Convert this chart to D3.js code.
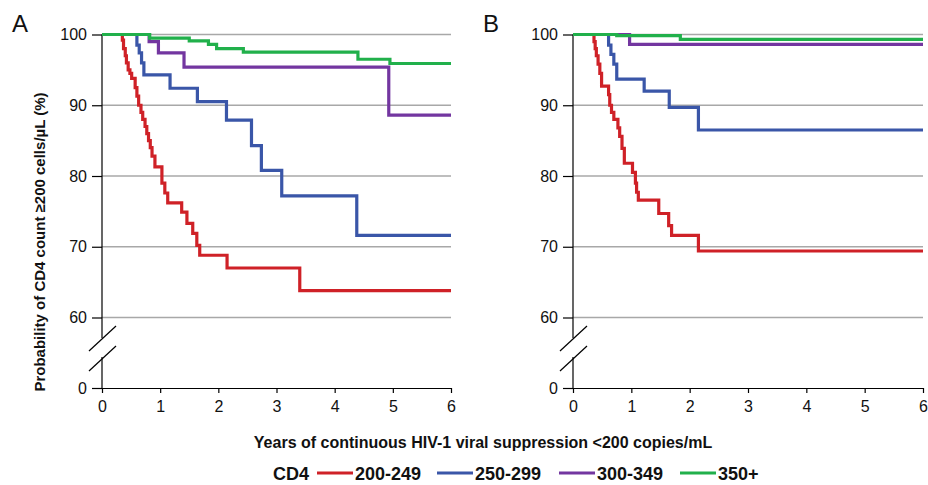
<!DOCTYPE html>
<meta charset="UTF-8">
<html>
<head>
<script src="https://d3js.org/d3.v7.min.js"></script>
<style>
  body { margin: 0; background: #fff; }
  svg { font-family: "Liberation Sans", Arial, sans-serif; }
</style>
</head>
<body>
<svg id="chart" width="928" height="485"></svg>
<script>
// ---- data (years, % probability after each step) ----
var groups = ["200-249", "250-299", "300-349", "350+"];
var colors = ["#cf2127", "#3a56a8", "#7336a0", "#21b04b"];
var xTicks = [0, 1, 2, 3, 4, 5, 6];
var yTicks = [0, 60, 70, 80, 90, 100];

// panel A
var timeA_200 = [0.35, 0.37, 0.40, 0.42, 0.45, 0.48, 0.51, 0.57, 0.60, 0.63, 0.67, 0.70, 0.74, 0.77, 0.80, 0.83, 0.86, 0.91, 1.03, 1.08, 1.13, 1.37, 1.46, 1.56, 1.63, 1.68, 2.15, 3.40];
var survA_200 = [99.2, 98.0, 97.0, 96.0, 95.0, 94.5, 93.8, 92.5, 91.3, 90.0, 89.0, 88.0, 87.0, 86.0, 85.0, 84.0, 82.8, 81.3, 79.0, 77.6, 76.2, 74.9, 73.3, 71.9, 70.2, 68.8, 67.0, 63.8];
var timeA_250 = [0.60, 0.64, 0.68, 0.72, 1.17, 1.64, 2.14, 2.57, 2.74, 3.09, 4.38];
var survA_250 = [98.5, 97.4, 96.0, 94.3, 92.4, 90.5, 87.9, 84.3, 80.8, 77.2, 71.6];
var timeA_300 = [0.81, 0.97, 1.41, 4.93];
var survA_300 = [99.0, 97.4, 95.4, 88.6];
var timeA_350 = [0.82, 1.50, 1.83, 1.97, 2.43, 4.40, 4.95];
var survA_350 = [99.5, 99.1, 98.6, 98.0, 97.5, 96.5, 95.9];

// panel B
var timeB_200 = [0.36, 0.38, 0.40, 0.43, 0.46, 0.49, 0.61, 0.63, 0.66, 0.70, 0.77, 0.80, 0.84, 0.88, 1.02, 1.07, 1.09, 1.12, 1.47, 1.64, 1.69, 2.15];
var survB_200 = [99.0, 98.0, 97.0, 95.8, 94.5, 92.7, 91.5, 90.0, 89.0, 88.0, 86.8, 85.6, 83.9, 81.8, 80.5, 79.0, 77.7, 76.6, 74.7, 73.0, 71.6, 69.4];
var timeB_250 = [0.61, 0.65, 0.70, 0.75, 1.22, 1.65, 2.15];
var survB_250 = [98.5, 97.2, 95.8, 93.7, 92.0, 89.7, 86.5];
var timeB_300 = [0.97];
var survB_300 = [98.6];
var timeB_350 = [0.75, 1.84];
var survB_350 = [99.85, 99.3];

var panels = [
  { label: "A", x0: 102, x1: 451, times: [timeA_200, timeA_250, timeA_300, timeA_350], surv: [survA_200, survA_250, survA_300, survA_350] },
  { label: "B", x0: 573, x1: 923, times: [timeB_200, timeB_250, timeB_300, timeB_350], surv: [survB_200, survB_250, survB_300, survB_350] }
];

var svg = d3.select("#chart");
// broken axis: 0 sits below 60
var y = d3.scaleLinear().domain([0, 60, 100]).range([388, 317.5, 34.5]);

panels.forEach(function (p) {
  var x = d3.scaleLinear().domain([0, 6]).range([p.x0, p.x1]);
  var g = svg.append("g");

  // gridlines
  g.selectAll("line.grid")
    .data(yTicks.filter(function (d) { return d >= 60; }))
    .enter().append("line")
    .attr("x1", x(0)).attr("x2", x(6))
    .attr("y1", function (d) { return y(d); })
    .attr("y2", function (d) { return y(d); })
    .attr("stroke", "#a8a8a8").attr("stroke-width", 1.5);

  // y axis, ticks only; the line is drawn by hand for the break
  var yAxis = g.append("g")
    .attr("transform", "translate(" + x(0) + ",0)")
    .call(d3.axisLeft(y).tickValues(yTicks).tickSize(10).tickPadding(5).tickFormat(d3.format("d")));
  yAxis.select(".domain").remove();
  yAxis.selectAll("line").attr("stroke", "#000").attr("stroke-width", 1.2);
  yAxis.selectAll("text").attr("font-size", 16).attr("fill", "#111")
    .attr("font-family", "'Liberation Sans', Arial, sans-serif");

  g.append("line").attr("x1", x(0)).attr("x2", x(0))
    .attr("y1", y(100)).attr("y2", 338).attr("stroke", "#000").attr("stroke-width", 1.2);
  g.append("line").attr("x1", x(0)).attr("x2", x(0))
    .attr("y1", 357).attr("y2", y(0)).attr("stroke", "#000").attr("stroke-width", 1.2);
  [0, 20].forEach(function (off) {
    g.append("line")
      .attr("x1", x(0) - 13).attr("y1", 351 + off)
      .attr("x2", x(0) + 14).attr("y2", 326 + off)
      .attr("stroke", "#000").attr("stroke-width", 1.2);
  });

  // x axis
  var xAxis = g.append("g")
    .attr("transform", "translate(0," + y(0) + ")")
    .call(d3.axisBottom(x).tickValues(xTicks).tickSize(5).tickPadding(8).tickSizeOuter(0).tickFormat(d3.format("d")));
  xAxis.select(".domain").attr("stroke", "#000").attr("stroke-width", 1.2);
  xAxis.selectAll("line").attr("stroke", "#000").attr("stroke-width", 1.2);
  xAxis.selectAll("text").attr("font-size", 16).attr("fill", "#111")
    .attr("font-family", "'Liberation Sans', Arial, sans-serif");

  // survival curves
  var line = d3.line()
    .x(function (d) { return x(d[0]); })
    .y(function (d) { return y(d[1]); })
    .curve(d3.curveStepAfter);

  groups.forEach(function (name, i) {
    var t = p.times[i], s = p.surv[i];
    var pts = [[0, 100]];
    t.forEach(function (tt, j) { pts.push([tt, s[j]]); });
    pts.push([6, s[s.length - 1]]);
    g.append("path")
      .attr("d", line(pts))
      .attr("fill", "none")
      .attr("stroke", colors[i])
      .attr("stroke-width", 3.2);
  });

  svg.append("text")
    .attr("x", p.x0 - 90).attr("y", 32)
    .attr("font-size", 24).attr("fill", "#111")
    .text(p.label);
});

// y title
svg.append("text")
  .attr("transform", "translate(45,242) rotate(-90)")
  .attr("text-anchor", "middle")
  .attr("font-size", 15).attr("font-weight", "bold").attr("fill", "#111")
  .text("Probability of CD4 count \u2265200 cells/\u00b5L (%)");

// x title
svg.append("text")
  .attr("x", 483).attr("y", 448)
  .attr("text-anchor", "middle")
  .attr("font-size", 16).attr("font-weight", "bold").attr("fill", "#111")
  .text("Years of continuous HIV-1 viral suppression <200 copies/mL");

// legend
var legend = svg.append("g").attr("font-weight", "bold").attr("font-size", 18).attr("fill", "#111");
legend.append("text").attr("x", 273).attr("y", 480).text("CD4");
var legendX = [317, 437, 559, 680];
groups.forEach(function (name, i) {
  legend.append("line")
    .attr("x1", legendX[i]).attr("x2", legendX[i] + 36)
    .attr("y1", 473).attr("y2", 473)
    .attr("stroke", colors[i]).attr("stroke-width", 3.2);
  legend.append("text").attr("x", legendX[i] + 38).attr("y", 480).text(name);
});
</script>
</body>
</html>
